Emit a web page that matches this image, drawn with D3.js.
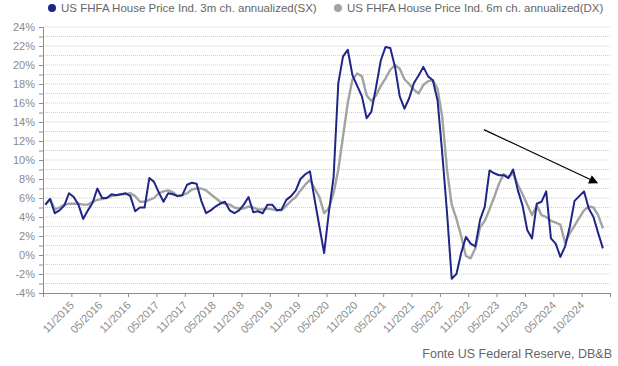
<!DOCTYPE html>
<html>
<head>
<meta charset="utf-8">
<script src="https://cdn.jsdelivr.net/npm/d3@7"></script>
<style>
body { margin: 0; background: #fff; }
svg text { font-family: "Liberation Sans", Arial, sans-serif; }
</style>
</head>
<body>
<svg id="chart" width="618" height="366"></svg>
<script>
// monthly observations, 06/2015 .. 04/2025
const months = d3.timeMonth.range(new Date(2015, 5, 1), new Date(2025, 5, 1));

const blue3m = [
  5.3, 5.9, 4.4, 4.7, 5.2, 6.5, 6.1, 5.3, 3.8, 4.7,
  5.5, 7.0, 6.0, 6.0, 6.4, 6.3, 6.4, 6.5, 6.2, 4.6,
  5.0, 5.0, 8.1, 7.7, 6.6, 5.6, 6.5, 6.4, 6.2, 6.3,
  7.4, 7.6, 7.5, 5.7, 4.4, 4.7, 5.1, 5.4, 5.6, 4.7,
  4.4, 4.7, 5.3, 6.1, 4.5, 4.6, 4.4, 5.3, 5.3, 4.7,
  4.8, 5.8, 6.2, 6.8, 8.0, 8.5, 8.8, 5.8, 3.0, 0.2,
  4.5, 8.2, 18.1, 20.9, 21.6, 18.9, 17.8, 16.7, 14.4, 15.1,
  17.7, 20.5, 21.9, 21.8, 19.8, 16.7, 15.4, 16.5, 18.1, 18.9,
  19.8, 18.8, 18.4, 16.3, 10.7, 4.5, -2.5, -2.0, 0.2, 1.9,
  1.2, 0.9, 3.7, 5.1, 8.9, 8.6, 8.4, 8.4, 8.1, 9.0,
  6.8, 5.2, 2.6, 1.75, 5.4, 5.6, 6.7, 1.75, 1.2, -0.2,
  0.9, 3.0, 5.7, 6.2, 6.7, 4.9, 4.0, 2.3, 0.7
];

const gray6m = [
  5.3, 5.9, 4.8, 5.0, 5.3, 5.4, 5.4, 5.4, 5.3, 5.3,
  5.6, 5.8, 5.9, 6.0, 6.2, 6.3, 6.4, 6.4, 6.5, 6.2,
  5.6, 5.6, 5.8, 6.0, 6.5, 6.7, 6.8, 6.6, 6.2, 6.3,
  6.5, 6.9, 7.0, 7.0, 6.8, 6.4, 6.0, 5.6, 5.4, 5.3,
  5.0, 4.9, 4.9, 5.1, 5.0, 4.8, 4.8, 4.9, 4.8, 4.7,
  4.7, 5.2, 5.7, 6.1, 6.8, 7.4, 7.9, 7.0, 6.1, 4.4,
  4.9, 6.5, 9.0, 12.5, 16.0, 18.5, 19.1, 18.8, 16.8, 16.2,
  16.8, 17.8, 18.6, 19.5, 20.0, 19.6, 18.5, 18.0, 17.4, 17.0,
  17.9, 18.3, 18.4, 17.5, 14.5, 9.0, 5.3, 3.8, 2.0, -0.1,
  -0.35, 0.7, 2.9, 3.6, 4.8, 6.1, 7.5, 8.5, 8.2, 8.6,
  7.4, 6.4, 5.3, 4.2, 5.2, 4.2, 4.0, 3.6, 3.4, 3.2,
  1.3, 2.3, 3.1, 3.9, 4.7, 5.1, 5.0, 4.2, 2.8
];

const tickLabels = [
  "11/2015", "05/2016", "11/2016", "05/2017", "11/2017", "05/2018",
  "11/2018", "05/2019", "11/2019", "05/2020", "11/2020", "05/2021",
  "11/2021", "05/2022", "11/2022", "05/2023", "11/2023", "05/2024", "10/2024"
];

const seriesNames = [
  "US FHFA House Price Ind. 3m ch. annualized(SX)",
  "US FHFA House Price Ind. 6m ch. annualized(DX)"
];
const seriesColors = ["#1f2687", "#a3a3a3"];

// trend arrow, in (month index, %) coordinates
const arrowFrom = [93.3, 13.2];
const arrowTo = [117.3, 7.6];

const svg = d3.select("#chart");

const x = d3.scaleLinear().domain([0, 120]).range([43, 610]);
const y = d3.scaleLinear().domain([-4, 24]).range([293, 27]);

// grid
svg.append("g")
  .selectAll("line")
  .data(d3.range(-3, 25, 1))
  .enter().append("line")
  .attr("x1", x(0)).attr("x2", x(120))
  .attr("y1", d => y(d)).attr("y2", d => y(d))
  .attr("stroke", "#cfcfcf")
  .attr("stroke-dasharray", "1,1");

// y axis
const yAxis = svg.append("g")
  .attr("transform", `translate(${x(0)},0)`)
  .call(d3.axisLeft(y)
    .tickValues(d3.range(-4, 25, 1))
    .tickSize(4)
    .tickPadding(4)
    .tickFormat(d => d % 2 === 0 ? d + "%" : ""));
yAxis.select(".domain").attr("stroke", "#8c8c8c");
yAxis.selectAll(".tick line").attr("stroke", "#8c8c8c");
yAxis.selectAll("text").attr("fill", "#8a8a8a").attr("font-size", 11);

// x axis
const xAxis = svg.append("g")
  .attr("transform", `translate(0,${y(-4)})`)
  .call(d3.axisBottom(x)
    .tickValues(d3.range(0, 121, 6))
    .tickSize(4)
    .tickSizeOuter(0)
    .tickFormat(d => tickLabels[d / 6 - 1] || ""));
xAxis.select(".domain").attr("stroke", "#8c8c8c");
xAxis.selectAll(".tick line").attr("stroke", "#8c8c8c");
xAxis.selectAll("text")
  .attr("fill", "#8a8a8a")
  .attr("font-size", 11)
  .attr("text-anchor", "end")
  .attr("dy", 0)
  .attr("transform", "translate(-2,8) rotate(-45)");

// lines
const line = d3.line()
  .x((d, i) => x(i + 0.5))
  .y(d => y(d));

svg.append("path")
  .datum(gray6m)
  .attr("d", line)
  .attr("fill", "none")
  .attr("stroke", seriesColors[1])
  .attr("stroke-width", 2.4)
  .attr("stroke-linejoin", "round");

svg.append("path")
  .datum(blue3m)
  .attr("d", line)
  .attr("fill", "none")
  .attr("stroke", seriesColors[0])
  .attr("stroke-width", 2)
  .attr("stroke-linejoin", "round");

// arrow
svg.append("defs").append("marker")
  .attr("id", "head")
  .attr("viewBox", "0 0 10 10")
  .attr("refX", 9).attr("refY", 5)
  .attr("markerWidth", 11).attr("markerHeight", 9)
  .attr("markerUnits", "userSpaceOnUse")
  .attr("orient", "auto")
  .append("path")
  .attr("d", "M0,0L10,5L0,10Z")
  .attr("fill", "#000");

svg.append("line")
  .attr("x1", x(arrowFrom[0])).attr("y1", y(arrowFrom[1]))
  .attr("x2", x(arrowTo[0])).attr("y2", y(arrowTo[1]))
  .attr("stroke", "#000")
  .attr("stroke-width", 1.2)
  .attr("marker-end", "url(#head)");

// legend
const legendX = [52, 338];
const legend = svg.append("g");
seriesNames.forEach((name, i) => {
  legend.append("circle")
    .attr("cx", legendX[i]).attr("cy", 8).attr("r", 4)
    .attr("fill", seriesColors[i]);
  legend.append("text")
    .attr("x", legendX[i] + 9).attr("y", 12)
    .attr("font-size", 11.5)
    .attr("fill", "#666")
    .text(name);
});

// source
svg.append("text")
  .attr("x", 612).attr("y", 358)
  .attr("text-anchor", "end")
  .attr("font-size", 12.5)
  .attr("fill", "#666")
  .text("Fonte US Federal Reserve, DB&B");
</script>
</body>
</html>
